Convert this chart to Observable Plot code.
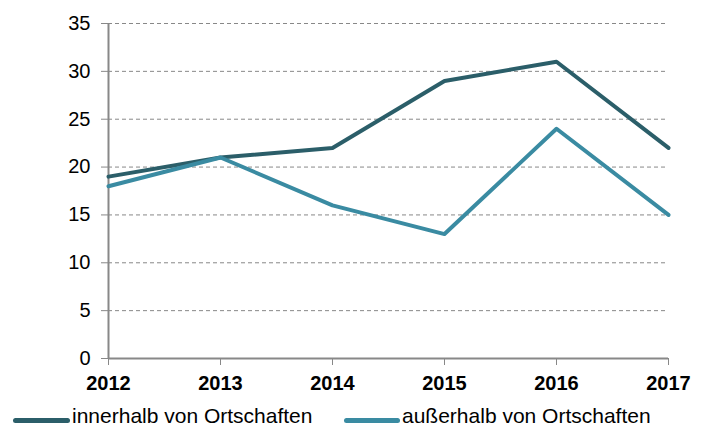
<!DOCTYPE html>
<html>
<head>
<meta charset="utf-8">
<script src="https://cdn.jsdelivr.net/npm/d3@7"></script>
<script src="https://cdn.jsdelivr.net/npm/@observablehq/plot@0.6"></script>
<style>
  body { margin: 0; background: #fff; font-family: "Liberation Sans", Arial, sans-serif; overflow: hidden; }
  #chart { position: relative; width: 708px; height: 427px; }
  .legend { position: absolute; left: 0; top: 404px; width: 708px; height: 23px; font-size: 21px; line-height: 23px; color: #000; }
  .item { position: absolute; top: 0; height: 23px; white-space: nowrap; }
  .sw { position: absolute; left: 0; top: 14px; height: 5px; border-radius: 2.5px; }
  .lt { position: absolute; top: 0; }
</style>
</head>
<body>
<div id="chart"></div>
<script>
const years = [2012, 2013, 2014, 2015, 2016, 2017];
const innerhalb = [19, 21, 22, 29, 31, 22];
const ausserhalb = [18, 21, 16, 13, 24, 15];
const seriesNames = ["innerhalb von Ortschaften", "außerhalb von Ortschaften"];
const colors = ["#2b5e69", "#3a8ba2"];
const yTicks = [0, 5, 10, 15, 20, 25, 30, 35];

const data = [];
years.forEach((y, i) => {
  data.push({year: y, value: innerhalb[i], series: seriesNames[0]});
  data.push({year: y, value: ausserhalb[i], series: seriesNames[1]});
});

const plot = Plot.plot({
  width: 708,
  height: 395,
  marginTop: 23,
  marginBottom: 37,
  marginLeft: 108,
  marginRight: 40,
  style: {fontFamily: "'Liberation Sans', Arial, sans-serif", fontSize: "20px", color: "#000", background: "#fff", overflow: "visible"},
  x: {domain: [2012, 2017]},
  y: {domain: [0, 35]},
  color: {domain: seriesNames, range: colors},
  marks: [
    Plot.ruleY(yTicks.filter(d => d > 0), {stroke: "#888", strokeDasharray: "4,3", strokeWidth: 1}),
    Plot.axisY({ticks: yTicks, tickSize: 7, tickPadding: 11, stroke: "#888", strokeOpacity: 1, label: null, fontSize: 20, fill: "#000"}),
    Plot.axisX({ticks: years, tickFormat: d => String(d), tickSize: 7, tickPadding: 10, stroke: "#888", strokeOpacity: 1, label: null, fontSize: 20, fontWeight: "bold", fill: "#000"}),
    Plot.ruleX([2012], {y1: 0, y2: 35, stroke: "#888", strokeWidth: 2}),
    Plot.ruleY([0], {stroke: "#888", strokeWidth: 2}),
    Plot.line(data, {x: "year", y: "value", z: "series", stroke: "series", strokeWidth: 4, strokeLinejoin: "round"})
  ]
});
document.getElementById("chart").appendChild(plot);

const legend = document.createElement("div");
legend.className = "legend";
const lefts = [13, 344];
const widths = [57, 56];
seriesNames.forEach((name, i) => {
  const it = document.createElement("div");
  it.className = "item";
  it.style.left = lefts[i] + "px";
  const sw = document.createElement("span");
  sw.className = "sw";
  sw.style.width = widths[i] + "px";
  sw.style.background = colors[i];
  it.appendChild(sw);
  const t = document.createElement("span");
  t.className = "lt";
  t.style.left = (widths[i] + 2) + "px";
  t.textContent = name;
  it.appendChild(t);
  legend.appendChild(it);
});
document.getElementById("chart").appendChild(legend);
</script>
</body>
</html>
